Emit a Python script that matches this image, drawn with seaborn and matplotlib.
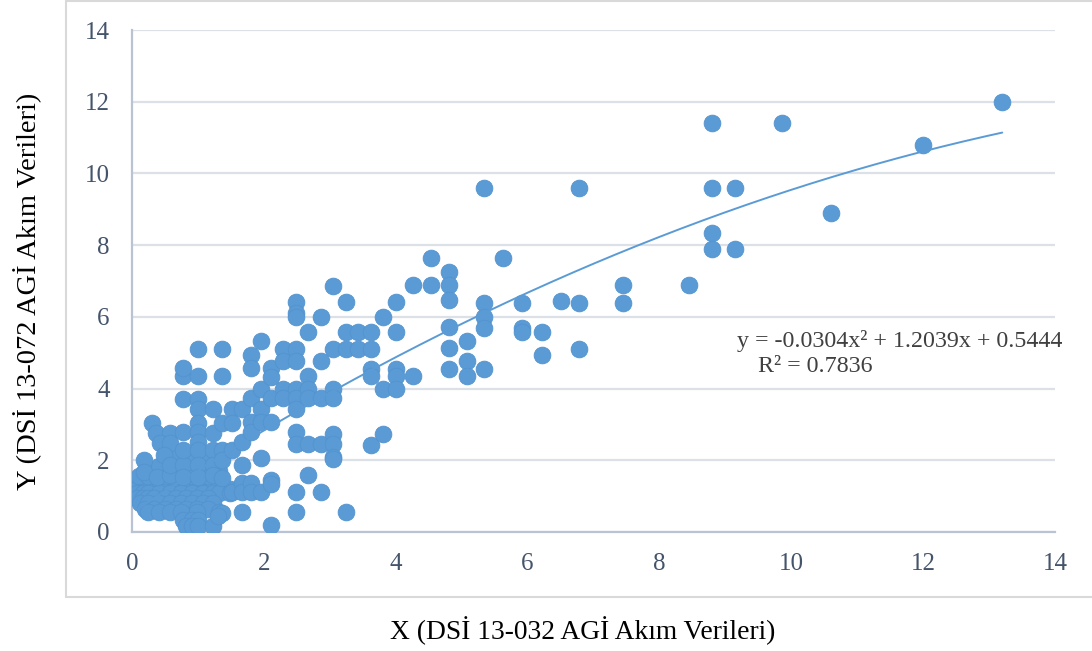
import matplotlib
matplotlib.use('Agg')
import matplotlib.pyplot as plt
import numpy as np
import pandas as pd
import seaborn as sns
from matplotlib.lines import Line2D

sns.set_theme(style='white')
plt.rcParams['font.family'] = ['Liberation Serif', 'DejaVu Serif']

# dense cluster near the origin
x_dense = [0.08, 0.16, 0.25, 0.33, 0.41, 0.5, 0.58, 0.66, 0.74, 0.82, 0.91, 0.99, 1.15, 1.32,
           0.08, 0.16, 0.25, 0.33, 0.41, 0.5, 0.66, 0.82, 0.99, 1.07, 1.23, 1.48,
           0.08, 0.16, 0.25, 0.41, 0.58, 0.74, 0.91, 1.07, 1.23, 1.32, 1.48,
           0.08, 0.16, 0.25, 0.33, 0.5, 0.66, 0.82, 0.99, 1.15,
           0.12, 0.25, 0.41, 0.58, 0.74, 0.91, 1.07, 1.23,
           0.2, 0.33, 0.5, 0.66, 0.82, 0.99, 1.15,
           0.25, 0.41, 0.58, 0.74, 0.99, 1.32,
           0.77, 0.91, 1.0,
           0.82, 0.91, 1.0, 1.23,
           0.1, 0.25, 0.41, 0.5, 0.66, 0.91, 1.07, 1.15,
           0.33, 0.5, 0.66, 0.82, 0.99, 1.15, 1.32,
           0.41, 0.66, 0.91, 1.07,
           0.66, 0.91, 1.15]
y_dense = ([1.37] * 14 + [1.2] * 12 + [1.1] * 11 + [0.95] * 9 + [0.8] * 8 + [0.65] * 7 + [0.55] * 6
           + [0.33] * 3 + [0.18] * 4 + [1.55] * 8 + [1.7] * 7 + [1.85] * 4 + [2.1] * 3)

x_left = [0.18, 0.18, 0.3, 0.36, 0.58, 0.42, 0.58, 0.49, 0.38, 0.58, 0.58, 0.77, 0.77, 0.77, 0.77, 0.77,
          0.77, 0.77, 1.0, 1.0, 1.0, 1.0, 1.0, 1.0, 1.0, 1.0, 1.0, 1.0, 1.23, 1.23, 1.23, 1.23, 1.23,
          1.37, 1.37, 1.37, 1.37, 1.37, 1.37, 1.37, 1.3, 1.52, 1.52, 1.52, 1.52, 1.67, 1.67, 1.67, 1.67,
          1.67, 1.67]
y_left = [2.0, 1.68, 3.04, 2.76, 2.76, 2.48, 2.48, 2.15, 1.53, 1.59, 1.87, 1.87, 1.53, 2.29, 2.79, 3.71,
          4.35, 4.57, 5.1, 4.35, 3.71, 3.42, 3.04, 2.79, 2.5, 2.29, 1.87, 1.53, 3.42, 2.76, 2.29, 1.87, 1.59,
          5.1, 4.35, 3.04, 2.29, 2.0, 1.5, 0.53, 0.45, 3.42, 3.04, 2.29, 1.12, 3.42, 2.5, 1.87, 1.37,
          1.12, 0.56]

x_mid = [1.8, 1.8, 1.8, 1.8, 1.8, 1.8, 1.8, 1.96, 1.96, 1.96, 1.96, 1.96, 1.96,
         2.11, 2.11, 2.11, 2.11, 2.11, 2.11, 2.11, 2.29, 2.29, 2.29, 2.29,
         2.49, 2.49, 2.49, 2.49, 2.49, 2.49, 2.49, 2.49, 2.49, 2.49, 2.49, 2.49,
         2.67, 2.67, 2.67, 2.67, 2.67, 2.67, 2.87, 2.87, 2.87, 2.87, 2.87,
         3.05, 3.05, 3.05, 3.05, 3.05, 3.05, 3.05, 3.05, 3.25, 3.25, 3.25, 3.25,
         3.43, 3.43, 3.63, 3.63, 3.63, 3.63, 3.63]
y_mid = [4.94, 4.57, 3.74, 3.07, 2.79, 1.37, 1.12, 5.33, 3.99, 3.42, 3.07, 2.07, 1.12,
         4.57, 4.32, 3.74, 3.07, 1.45, 1.34, 0.2, 5.1, 4.77, 3.99, 3.74,
         6.41, 6.1, 6.0, 5.1, 4.77, 3.99, 3.74, 3.42, 2.79, 2.45, 1.12, 0.56,
         5.58, 4.35, 3.99, 3.74, 2.45, 1.59, 6.0, 4.77, 3.74, 2.45, 1.12,
         6.86, 5.1, 3.99, 3.74, 2.73, 2.45, 2.1, 2.03, 6.41, 5.58, 5.1, 0.56,
         5.58, 5.1, 5.58, 5.1, 4.55, 4.35, 2.43]

x_upper = [3.81, 3.81, 3.81, 4.0, 4.0, 4.0, 4.0, 4.0, 4.26, 4.26, 4.54, 4.54,
           4.81, 4.81, 4.81, 4.81, 4.81, 4.81, 5.08, 5.08, 5.08,
           5.34, 5.34, 5.34, 5.34, 5.34, 5.63, 5.92, 5.92, 5.92, 6.22, 6.22, 6.5,
           6.78, 6.78, 6.78, 7.45, 7.45, 8.45, 8.8, 8.8, 8.8, 8.8, 9.15, 9.15,
           9.86, 10.6, 12.0, 13.2]
y_upper = [6.0, 3.99, 2.73, 6.41, 5.58, 4.55, 4.35, 3.99, 6.88, 4.35, 7.64, 6.88,
           7.25, 6.88, 6.47, 5.72, 5.13, 4.55, 5.33, 4.77, 4.35,
           9.6, 6.4, 6.0, 5.7, 4.55, 7.64, 6.4, 5.7, 5.58, 5.58, 4.94, 6.45,
           9.6, 6.4, 5.1, 6.9, 6.4, 6.9, 11.4, 9.6, 8.35, 7.9, 9.6, 7.9,
           11.4, 8.9, 10.8, 12.0]

# polynomial trendline coefficients as printed on the chart
trend_coef = [-0.0304, 1.2039, 0.5444]
trend_label = 'y = -0.0304x² + 1.2039x + 0.5444'
r2_label = 'R² = 0.7836'

df = pd.DataFrame({
    'x': x_dense + x_left + x_mid + x_upper,
    'y': y_dense + y_left + y_mid + y_upper,
})

W, H = 1092, 651
blue = '#5B9BD5'
tick_col = '#44546A'

fig = plt.figure(figsize=(W / 100, H / 100), dpi=100)
ax = fig.add_axes([132 / W, 1 - 532 / H, (1055 - 132) / W, (532 - 30) / H])

sns.scatterplot(data=df, x='x', y='y', ax=ax, s=145, color=blue,
                edgecolor='#5293CF', linewidth=0.6, zorder=3)

xs = np.linspace(df['x'].min(), df['x'].max(), 200)
ax.plot(xs, np.polyval(trend_coef, xs), color=blue, lw=1.4, zorder=4)

ax.set_xlim(0, 14)
ax.set_ylim(0, 14)
ax.set_xticks(range(0, 15, 2))
ax.set_yticks(range(0, 15, 2))
ax.set_xlabel('')
ax.set_ylabel('')
ax.yaxis.grid(True, color='#DCE0E7', lw=1.6)
ax.xaxis.grid(False)
ax.set_axisbelow(True)
for side in ['top', 'right']:
    ax.spines[side].set_visible(False)
for side in ['left', 'bottom']:
    ax.spines[side].set_color('#B9C3D3')
    ax.spines[side].set_linewidth(1.6)
ax.tick_params(axis='both', length=0, labelsize=18, colors=tick_col)
ax.tick_params(axis='x', pad=15)
ax.tick_params(axis='y', pad=16)

fig.text(1062 / W, 1 - 341 / H, trend_label, ha='right', va='center', fontsize=17.3, color='#404040')
fig.text(815 / W, 1 - 367 / H, r2_label, ha='center', va='center', fontsize=17.3, color='#404040')

fig.text(583 / W, 1 - 631 / H, 'X (DSİ 13-032 AGİ Akım Verileri)', ha='center', va='center',
         fontsize=19.8, color='black')
fig.text(28 / W, 1 - 291 / H, 'Y (DSİ 13-072 AGİ Akım Verileri)', ha='center', va='center',
         rotation=90, fontsize=20.5, color='black')

# outer chart frame
frame_col = '#D9D9D9'
fx, fy = 66 / W, 1 - 597 / H
fig.add_artist(Line2D([fx, fx], [fy, 1 - 1 / H], transform=fig.transFigure, color=frame_col, lw=1.5))
fig.add_artist(Line2D([fx, 1], [fy, fy], transform=fig.transFigure, color=frame_col, lw=1.5))
fig.add_artist(Line2D([fx, 1], [1 - 1 / H, 1 - 1 / H], transform=fig.transFigure, color=frame_col, lw=1.5))

fig.savefig('out.png', dpi=100)
plt.close(fig)
